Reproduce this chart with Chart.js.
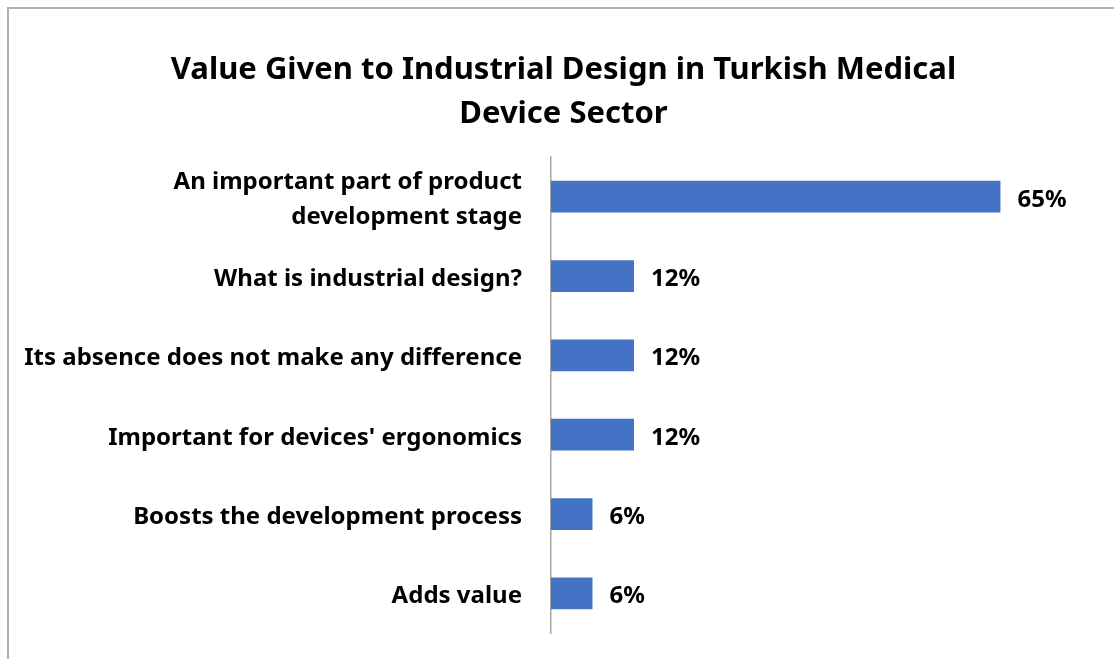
<!DOCTYPE html>
<html>
<head>
<meta charset="utf-8">
<script src="https://cdn.jsdelivr.net/npm/chart.js@4"></script>
<style>
  html, body { margin: 0; padding: 0; background: #fff; overflow: hidden; }
  #frame {
    position: absolute; left: 7px; top: 7px;
    width: 1109px; height: 650px;
    border: 2px solid #b0b0b0;
  }
</style>
</head>
<body>
<div id="frame"><canvas id="chart" width="1109" height="650"></canvas></div>
<script>
const categories = [
  ['An important part of product', 'development stage'],
  'What is industrial design?',
  'Its absence does not make any difference',
  "Important for devices' ergonomics",
  'Boosts the development process',
  'Adds value'
];
const shares = [65, 12, 12, 12, 6, 6];
const titleLines = ['Value Given to Industrial Design in Turkish Medical', 'Device Sector'];

const FONT = '"Noto Sans", "Open Sans", sans-serif';

const barLabels = {
  id: 'barLabels',
  afterDatasetsDraw(chart) {
    const ctx = chart.ctx;
    const meta = chart.getDatasetMeta(0);
    ctx.save();
    ctx.font = 'bold 24px ' + FONT;
    ctx.fillStyle = '#000';
    ctx.textAlign = 'left';
    ctx.textBaseline = 'middle';
    meta.data.forEach((bar, i) => {
      ctx.fillText(shares[i] + '%', bar.x + 17, bar.y + 3);
    });
    ctx.restore();
  }
};

new Chart(document.getElementById('chart'), {
  type: 'bar',
  data: {
    labels: categories,
    datasets: [{
      data: shares,
      backgroundColor: '#4472C4',
      borderWidth: 0,
      barPercentage: 0.8,
      categoryPercentage: 0.5
    }]
  },
  options: {
    indexAxis: 'y',
    responsive: false,
    animation: false,
    layout: { padding: { left: 0, right: 0, top: 0, bottom: 26 } },
    plugins: {
      legend: { display: false },
      tooltip: { enabled: false },
      title: {
        display: true,
        text: titleLines,
        color: '#000',
        font: { family: FONT, size: 31, weight: 'bold', lineHeight: 1.42 },
        padding: { top: 39, bottom: 21 }
      }
    },
    scales: {
      x: {
        display: false,
        min: 0,
        max: 82
      },
      y: {
        afterFit(scale) {
          scale.width = 542;
          scale.paddingTop = 0;
          scale.paddingBottom = 0;
        },
        grid: { display: false, drawTicks: false },
        border: { display: true, color: '#a6a6a6', width: 1.5 },
        ticks: {
          color: '#000',
          padding: 29,
          labelOffset: 3,
          font: { family: FONT, size: 24, weight: 'bold', lineHeight: 1.45 }
        }
      }
    }
  },
  plugins: [barLabels]
});
</script>
</body>
</html>
